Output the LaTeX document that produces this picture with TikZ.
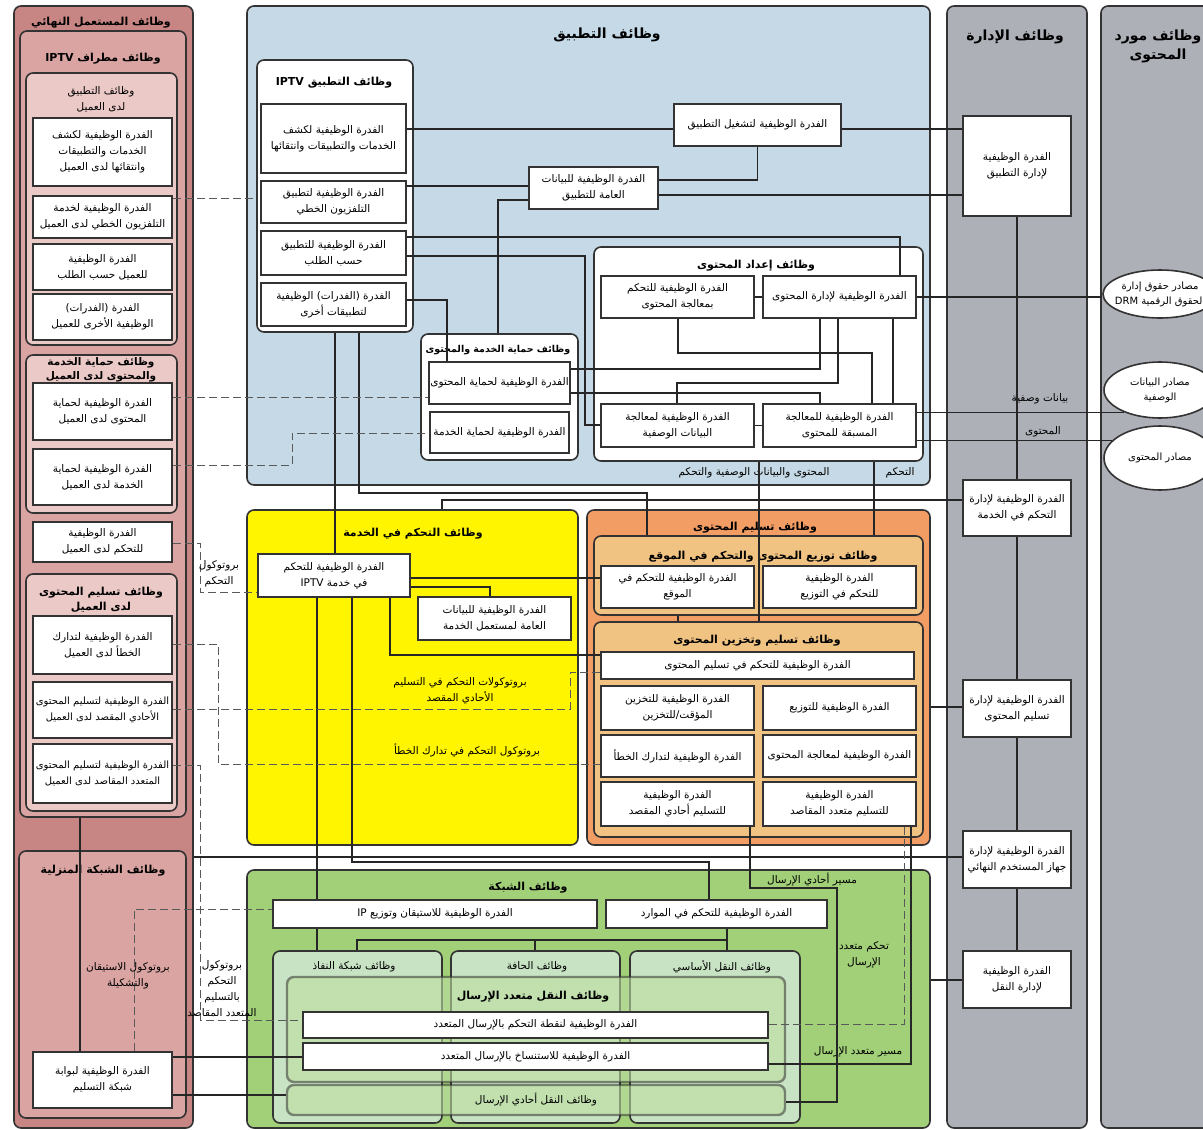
\documentclass[tikz,border=0pt]{standalone}
\usepackage{fontspec}
\setmainfont{DejaVu Sans}
\newfontfamily\arabicfont[Script=Arabic]{DejaVu Sans}
\usepackage{tikz}
\usetikzlibrary{shapes.geometric}
\TeXXeTstate=1
\definecolor{euouter}{RGB}{199,134,131}
\definecolor{eumid}{RGB}{217,164,161}
\definecolor{euinner}{RGB}{235,201,198}
\definecolor{appblue}{RGB}{197,218,230}
\definecolor{svcyellow}{RGB}{255,245,0}
\definecolor{cdorange}{RGB}{242,157,99}
\definecolor{cdlight}{RGB}{241,195,131}
\definecolor{netgreen}{RGB}{161,208,120}
\definecolor{netlight}{RGB}{200,227,196}
\definecolor{mgmtgray}{RGB}{174,176,184}
\newcommand{\ar}[1]{\beginR #1\endR}

\begin{document}
\begin{tikzpicture}[x=1pt,y=-1pt,
  grp/.style={draw=black!80,line width=1.6pt,rounded corners=7pt},
  fn/.style={draw=black!80,line width=2pt,fill=white,align=center,inner sep=1pt,font=\arabicfont\fontsize{10.5}{16}\selectfont},
  ttl/.style={align=center,inner sep=0pt,font=\arabicfont\bfseries\fontsize{11}{15}\selectfont},
  bigttl/.style={align=center,inner sep=0pt,font=\arabicfont\bfseries\fontsize{14}{19}\selectfont},
  lbl/.style={align=center,inner sep=0pt,font=\arabicfont\fontsize{10.5}{16}\selectfont},
  src/.style={ellipse,draw=black!80,line width=1.6pt,fill=white,align=center,inner ysep=0pt,inner xsep=-12pt,font=\arabicfont\fontsize{10}{15}\selectfont},
  lnk/.style={draw=black!85,line width=1.5pt},
  prt/.style={draw=black!65,line width=0.9pt,dash pattern=on 8pt off 4pt}]

  \useasboundingbox (0,0) rectangle (1203,1130);
  \clip (0,0) rectangle (1203,1130);

  % end-user column
  \node[grp,fill=euouter,minimum width=179,minimum height=1122] (eu) at (103.5,567) {};
  \node[ttl] (eu-t) at (101,23) {\ar{وظائف المستعمل النهائي}};
  \node[grp,fill=eumid,minimum width=166,minimum height=786] (term) at (103,424) {};
  \node[ttl] (term-t) at (103,59) {\ar{وظائف مطراف IPTV}};
  \node[grp,fill=euinner,minimum width=151,minimum height=272] (capp) at (101.5,209) {};
  \node[lbl] (capp-t) at (101,99) {\ar{وظائف التطبيق}\\\ar{لدى العميل}};
  \node[grp,fill=euinner,minimum width=151,minimum height=158] (cprotg) at (101.5,434) {};
  \node[ttl,font=\arabicfont\bfseries\fontsize{10.5}{14}\selectfont] (cprotg-t) at (101,370) {\ar{وظائف حماية الخدمة}\\\ar{والمحتوى لدى العميل}};
  \node[grp,fill=euinner,minimum width=151,minimum height=237] (cdel) at (101.5,692.5) {};
  \node[ttl] (cdel-t) at (101,600) {\ar{وظائف تسليم المحتوى}\\\ar{لدى العميل}};
  \node[grp,fill=eumid,minimum width=167,minimum height=267] (home) at (102.5,984.5) {};
  \node[ttl] (home-t) at (103,871) {\ar{وظائف الشبكة المنزلية}};

  \node[fn,minimum width=139,minimum height=68] (cdisc) at (102.5,152) {\ar{الفدرة الوظيفية لكشف}\\\ar{الخدمات والتطبيقات}\\\ar{وانتقائها لدى العميل}};
  \node[fn,minimum width=139,minimum height=42] (clin) at (102.5,217) {\ar{الفدرة الوظيفية لخدمة}\\\ar{التلفزيون الخطي لدى العميل}};
  \node[fn,minimum width=139,minimum height=46] (cvod) at (102.5,267) {\ar{الفدرة الوظيفية}\\\ar{للعميل حسب الطلب}};
  \node[fn,minimum width=139,minimum height=46] (cother) at (102.5,317) {\ar{الفدرة (الفدرات)}\\\ar{الوظيفية الأخرى للعميل}};
  \node[fn,minimum width=139,minimum height=57] (ccp) at (102.5,411.5) {\ar{الفدرة الوظيفية لحماية}\\\ar{المحتوى لدى العميل}};
  \node[fn,minimum width=139,minimum height=56] (csp) at (102.5,477) {\ar{الفدرة الوظيفية لحماية}\\\ar{الخدمة لدى العميل}};
  \node[fn,minimum width=139,minimum height=40] (cctl) at (102.5,542) {\ar{الفدرة الوظيفية}\\\ar{للتحكم لدى العميل}};
  \node[fn,minimum width=139,minimum height=58] (cfec) at (102.5,645) {\ar{الفدرة الوظيفية لتدارك}\\\ar{الخطأ لدى العميل}};
  \node[fn,minimum width=139,minimum height=56,font=\arabicfont\fontsize{10}{16}\selectfont] (cuni) at (102.5,710) {\ar{الفدرة الوظيفية لتسليم المحتوى}\\\ar{الأحادي المقصد لدى العميل}};
  \node[fn,minimum width=139,minimum height=59,font=\arabicfont\fontsize{10}{16}\selectfont] (cmul) at (102.5,773.5) {\ar{الفدرة الوظيفية لتسليم المحتوى}\\\ar{المتعدد المقاصد لدى العميل}};
  \node[fn,minimum width=139,minimum height=56] (gw) at (102.5,1080) {\ar{الفدرة الوظيفية لبوابة}\\\ar{شبكة التسليم}};

  % application functions
  \node[grp,fill=appblue,minimum width=683,minimum height=479] (app) at (588.5,245.5) {};
  \node[bigttl] (app-t) at (607,35) {\ar{وظائف التطبيق}};
  \node[grp,fill=white,minimum width=156,minimum height=272] (iptvapp) at (335,196) {};
  \node[ttl] (iptvapp-t) at (334,83) {\ar{وظائف التطبيق IPTV}};
  \node[fn,minimum width=145,minimum height=69] (adisc) at (333.5,138.5) {\ar{الفدرة الوظيفية لكشف}\\\ar{الخدمات والتطبيقات وانتقائها}};
  \node[fn,minimum width=145,minimum height=42] (alin) at (333.5,202) {\ar{الفدرة الوظيفية لتطبيق}\\\ar{التلفزيون الخطي}};
  \node[fn,minimum width=145,minimum height=44] (avod) at (333.5,253) {\ar{الفدرة الوظيفية للتطبيق}\\\ar{حسب الطلب}};
  \node[fn,minimum width=145,minimum height=43] (aother) at (333.5,304.5) {\ar{الفدرة (الفدرات) الوظيفية}\\\ar{لتطبيقات أخرى}};
  \node[fn,minimum width=167,minimum height=42] (aexec) at (757.5,125) {\ar{الفدرة الوظيفية لتشغيل التطبيق}};
  \node[fn,minimum width=129,minimum height=42] (acommon) at (593.5,188) {\ar{الفدرة الوظيفية للبيانات}\\\ar{العامة للتطبيق}};

  \node[grp,fill=white,minimum width=157,minimum height=126] (scprot) at (499.5,397) {};
  \node[ttl,font=\arabicfont\bfseries\fontsize{9.5}{14}\selectfont] (scprot-t) at (498,350) {\ar{وظائف حماية الخدمة والمحتوى}};
  \node[fn,minimum width=139,minimum height=42] (aprotc) at (499.5,383) {\ar{الفدرة الوظيفية لحماية المحتوى}};
  \node[fn,minimum width=139,minimum height=41] (aprots) at (499.5,432.5) {\ar{الفدرة الوظيفية لحماية الخدمة}};

  \node[grp,fill=white,minimum width=329,minimum height=214] (prep) at (758.5,354) {};
  \node[ttl] (prep-t) at (756,266) {\ar{وظائف إعداد المحتوى}};
  \node[fn,minimum width=153,minimum height=42] (pctl) at (677.5,297) {\ar{الفدرة الوظيفية للتحكم}\\\ar{بمعالجة المحتوى}};
  \node[fn,minimum width=153,minimum height=42] (pmgmt) at (839.5,297) {\ar{الفدرة الوظيفية لإدارة المحتوى}};
  \node[fn,minimum width=153,minimum height=43] (pmeta) at (677.5,425.5) {\ar{الفدرة الوظيفية لمعالجة}\\\ar{البيانات الوصفية}};
  \node[fn,minimum width=153,minimum height=43] (ppre) at (839.5,425.5) {\ar{الفدرة الوظيفية للمعالجة}\\\ar{المسبقة للمحتوى}};
  \node[lbl] (cmd-l) at (754,473) {\ar{المحتوى والبيانات الوصفية والتحكم}};
  \node[lbl] (ctl-l) at (900,473) {\ar{التحكم}};

  % service control functions
  \node[grp,fill=svcyellow,minimum width=331,minimum height=335] (svc) at (412.5,677.5) {};
  \node[ttl] (svc-t) at (413,534) {\ar{وظائف التحكم في الخدمة}};
  \node[fn,minimum width=152,minimum height=43] (sctl) at (334,575.5) {\ar{الفدرة الوظيفية للتحكم}\\\ar{في خدمة IPTV}};
  \node[fn,minimum width=153,minimum height=43] (sdata) at (494.5,618.5) {\ar{الفدرة الوظيفية للبيانات}\\\ar{العامة لمستعمل الخدمة}};
  \node[lbl] (uni-l) at (460,691) {\ar{بروتوكولات التحكم في التسليم}\\\ar{الأحادي المقصد}};
  \node[lbl] (fec-l) at (467,750) {\ar{بروتوكول التحكم في تدارك الخطأ}};

  % content delivery functions
  \node[grp,fill=cdorange,minimum width=343,minimum height=335] (cd) at (758.5,677.5) {};
  \node[ttl] (cd-t) at (755,528) {\ar{وظائف تسليم المحتوى}};
  \node[grp,fill=cdlight,minimum width=329,minimum height=79] (dist) at (758.5,575.5) {};
  \node[ttl] (dist-t) at (763,557) {\ar{وظائف توزيع المحتوى والتحكم في الموقع}};
  \node[fn,minimum width=153,minimum height=42] (dloc) at (677.5,587) {\ar{الفدرة الوظيفية للتحكم في}\\\ar{الموقع}};
  \node[fn,minimum width=153,minimum height=42] (dctl) at (839.5,587) {\ar{الفدرة الوظيفية}\\\ar{للتحكم في التوزيع}};
  \node[grp,fill=cdlight,minimum width=329,minimum height=215] (dstore) at (758.5,729.5) {};
  \node[ttl] (dstore-t) at (757,641) {\ar{وظائف تسليم وتخزين المحتوى}};
  \node[fn,minimum width=313,minimum height=27] (dcc) at (757.5,665.5) {\ar{الفدرة الوظيفية للتحكم في تسليم المحتوى}};
  \node[fn,minimum width=153,minimum height=44] (dcache) at (677.5,708) {\ar{الفدرة الوظيفية للتخزين}\\\ar{المؤقت/للتخزين}};
  \node[fn,minimum width=153,minimum height=44] (ddist) at (839.5,708) {\ar{الفدرة الوظيفية للتوزيع}};
  \node[fn,minimum width=153,minimum height=42] (dfec) at (677.5,756) {\ar{الفدرة الوظيفية لتدارك الخطأ}};
  \node[fn,minimum width=153,minimum height=42] (dproc) at (839.5,756) {\ar{الفدرة الوظيفية لمعالجة المحتوى}};
  \node[fn,minimum width=153,minimum height=44] (duni) at (677.5,804) {\ar{الفدرة الوظيفية}\\\ar{للتسليم أحادي المقصد}};
  \node[fn,minimum width=153,minimum height=44] (dmul) at (839.5,804) {\ar{الفدرة الوظيفية}\\\ar{للتسليم متعدد المقاصد}};

  % network functions
  \node[grp,fill=netgreen,minimum width=683,minimum height=258] (netfn) at (588.5,999) {};
  \node[ttl] (netfn-t) at (528,888) {\ar{وظائف الشبكة}};
  \node[fn,minimum width=324,minimum height=28] (ipbox) at (435,914) {\ar{الفدرة الوظيفية للاستيقان وتوزيع IP}};
  \node[fn,minimum width=221,minimum height=28] (rsc) at (716.5,914) {\ar{الفدرة الوظيفية للتحكم في الموارد}};
  \node[grp,fill=netlight,minimum width=169,minimum height=172] (accfn) at (357.5,1037) {};
  \node[lbl] (accfn-t) at (354,967) {\ar{وظائف شبكة النفاذ}};
  \node[grp,fill=netlight,minimum width=169,minimum height=172] (edgefn) at (535.5,1037) {};
  \node[lbl] (edgefn-t) at (537,967) {\ar{وظائف الحافة}};
  \node[grp,fill=netlight,minimum width=170,minimum height=172] (corefn) at (715,1037) {};
  \node[lbl] (corefn-t) at (722,967) {\ar{وظائف النقل الأساسي}};
  \node[grp,draw opacity=0.55,fill=netgreen!70!white,fill opacity=0.6,line width=2.4pt,minimum width=498,minimum height=105] (mcast) at (536,1029.5) {};
  \node[ttl] (mcast-t) at (533,997) {\ar{وظائف النقل متعدد الإرسال}};
  \node[fn,minimum width=465,minimum height=26] (mcp) at (535.5,1025) {\ar{الفدرة الوظيفية لنقطة التحكم بالإرسال المتعدد}};
  \node[fn,minimum width=465,minimum height=27] (mrep) at (535.5,1056.5) {\ar{الفدرة الوظيفية للاستنساخ بالإرسال المتعدد}};
  \node[grp,draw opacity=0.55,fill=netgreen!70!white,fill opacity=0.6,text opacity=1,line width=2.4pt,minimum width=498,minimum height=30,font=\arabicfont\fontsize{10.5}{16}\selectfont] (ucast) at (536,1100) {\ar{وظائف النقل أحادي الإرسال}};
  \node[lbl] (ur-l) at (812,880) {\ar{مسير أحادي الإرسال}};
  \node[lbl] (mc-l) at (864,955) {\ar{تحكم متعدد}\\\ar{الإرسال}};
  \node[lbl] (mr-l) at (858,1052) {\ar{مسير متعدد الإرسال}};

  % management functions
  \node[grp,fill=mgmtgray,minimum width=140,minimum height=1122] (mgmt) at (1017,567) {};
  \node[bigttl] (mgmt-t) at (1015,37) {\ar{وظائف الإدارة}};
  \node[fn,minimum width=108,minimum height=100] (mapp) at (1017,166) {\ar{الفدرة الوظيفية}\\\ar{لإدارة التطبيق}};
  \node[fn,minimum width=108,minimum height=56] (msvc) at (1017,508) {\ar{الفدرة الوظيفية لإدارة}\\\ar{التحكم في الخدمة}};
  \node[fn,minimum width=108,minimum height=57] (mdel) at (1017,708.5) {\ar{الفدرة الوظيفية لإدارة}\\\ar{تسليم المحتوى}};
  \node[fn,minimum width=108,minimum height=57] (mdev) at (1017,859.5) {\ar{الفدرة الوظيفية لإدارة}\\\ar{جهاز المستخدم النهائي}};
  \node[fn,minimum width=108,minimum height=57] (mtr) at (1017,979.5) {\ar{الفدرة الوظيفية}\\\ar{لإدارة النقل}};
  \node[lbl] (md-l) at (1040,399) {\ar{بيانات وصفية}};
  \node[lbl] (ct-l) at (1043,432) {\ar{المحتوى}};

  % content provider functions
  \node[grp,fill=mgmtgray,minimum width=120,minimum height=1122] (prov) at (1161,567) {};
  \node[bigttl] (prov-t) at (1158,46) {\ar{وظائف مورد}\\\ar{المحتوى}};
  \node[src,minimum width=114,minimum height=48] (drm) at (1160,294) {\ar{مصادر حقوق إدارة}\\\ar{الحقوق الرقمية DRM}};
  \node[src,minimum width=112,minimum height=56] (meta) at (1160,390) {\ar{مصادر البيانات}\\\ar{الوصفية}};
  \node[src,minimum width=112,minimum height=64] (csrc) at (1160,458) {\ar{مصادر المحتوى}};

  % connectors
  \draw[lnk] (adisc.east |- 0,129) -- (aexec.west |- 0,129);
  \draw[lnk] (aexec.east |- 0,129) -- (mapp.west |- 0,129);
  \draw[lnk] (aexec.south) |- (acommon.east |- 0,180);
  \draw[lnk] (acommon.east |- 0,195) -- (mapp.west |- 0,195);
  \draw[lnk] (alin.east |- 0,186) -- (acommon.west |- 0,186);
  \draw[lnk] (acommon.west |- 0,200) -| (scprot.north -| 498,0);
  \draw[lnk] (avod.east |- 0,237) -| (pmgmt.north -| 900,0);
  \draw[lnk] (avod.east |- 0,256) -| (585,425) -- (pmeta.west |- 0,425);
  \draw[lnk] (aother.east |- 0,300) -| (aprotc.north -| 447,0);
  \draw[lnk] (aprotc.east |- 0,369) -| (pmgmt.south -| 820,0);
  \draw[lnk] (aprotc.east |- 0,393) -| (ppre.north -| 820,0);
  \draw[lnk] (pctl.south -| 678,0) |- (872,353) -- (ppre.north -| 872,0);
  \draw[lnk] (pmgmt.south -| 838,0) |- (677,383) -- (pmeta.north -| 677,0);
  \draw[lnk] (pmgmt.south -| 893,0) -- (ppre.north -| 893,0);
  \draw[lnk] (pctl) -- (pmgmt);
  \draw[lnk] (pmeta) -- (ppre);
  \draw[lnk] (pmgmt.east) -- (pmgmt.east -| drm.west);
  \draw[lnk] (ppre.east |- meta.212) -- (meta.212);
  \draw[lnk] (ppre.east |- csrc.160) -- (csrc.160);
  \draw[lnk] (mapp) -- (msvc) -- (mdel) -- (mdev) -- (mtr);

  \draw[lnk] (iptvapp.south) -- (iptvapp.south |- sctl.north);
  \draw[lnk] (iptvapp.south -| 359,0) |- (647,493) -- (dist.north -| 647,0);
  \draw[lnk] (svc.north -| 442,0) |- (msvc.west |- 0,500);
  \draw[lnk] (prep.south -| 759,0) -- (dstore.north -| 759,0);
  \draw[lnk] (prep.south -| 874,0) -- (dist.north -| 874,0);
  \draw[lnk] (sctl.east |- 0,578) -- (dloc.west |- 0,578);
  \draw[lnk] (sctl.east |- 0,587) -| (sdata.north -| 490,0);
  \draw[lnk] (sctl.south -| 390,0) |- (dcc.west |- 0,655);
  \draw[lnk] (sctl.south -| 317,0) -- (ipbox.north -| 317,0);
  \draw[lnk] (sctl.south -| 352,0) |- (709,862) -- (rsc.north -| 709,0);
  \draw[lnk] (dist.south -| 678,0) -- (dstore.north -| 678,0);
  \draw[lnk] (cd.east |- 0,707) -- (mdel.west |- 0,707);
  \draw[lnk] (eu.east |- 0,857) -- (mdev.west |- 0,857);
  \draw[lnk] (netfn.east |- 0,980) -- (mtr.west |- 0,980);
  \draw[lnk] (duni.south -| 750,0) |- (837,888) |- (ucast.east |- 0,1102);
  \draw[prt] (dmul.south -| 904,0) |- (mcp.east |- 0,1024);
  \draw[lnk] (dmul.south -| 911,0) |- (mrep.east |- 0,1064);
  \draw[lnk] (ipbox.south -| 317,0) -- (accfn.north -| 317,0);
  \draw[lnk] (rsc.south -| 727,0) -- (corefn.north -| 727,0);
  \draw[lnk] (accfn.north -| 357,0) -- (357,940) -- (727,940);
  \draw[lnk] (edgefn.north -| 535,0) -- (535,940);
  \draw[lnk] (gw.east |- 0,1057) -- (mrep.west |- 0,1057);
  \draw[lnk] (gw.east |- 0,1095) -- (ucast.west |- 0,1095);
  \draw[lnk] (term.south -| 80,0) -- (gw.north -| 80,0);

  % protocols
  \draw[prt] (gw.north -| 134,0) |- (ipbox.west |- 0,909);
  \draw[prt] (clin.east |- 0,198) -- (iptvapp.west |- 0,198);
  \draw[prt] (ccp.east |- 0,397) -- (aprotc.west |- 0,397);
  \draw[prt] (csp.east |- 0,465) -| (292,433) -- (aprots.west |- 0,433);
  \draw[prt] (cctl.east |- 0,543) -| (200,592) -- (sctl.west |- 0,592);
  \draw[prt] (cfec.east |- 0,644) -| (218,764) -- (dfec.west |- 0,764);
  \draw[prt] (cuni.east |- 0,709) -| (570,672) -- (dcc.west |- 0,672);
  \draw[prt] (cmul.east |- 0,765) -| (200,1020) -- (mcp.west |- 0,1020);
  \node[lbl] (ctl-p) at (219,574) {\ar{بروتوكول}\\\ar{التحكم}};
  \node[lbl] (mc-p) at (222,989) {\ar{بروتوكول}\\\ar{التحكم}\\\ar{بالتسليم}\\\ar{المتعدد المقاصد}};
  \node[lbl] (auth-l) at (128,976) {\ar{بروتوكول الاستيقان}\\\ar{والتشكيلة}};

\end{tikzpicture}
\end{document}
